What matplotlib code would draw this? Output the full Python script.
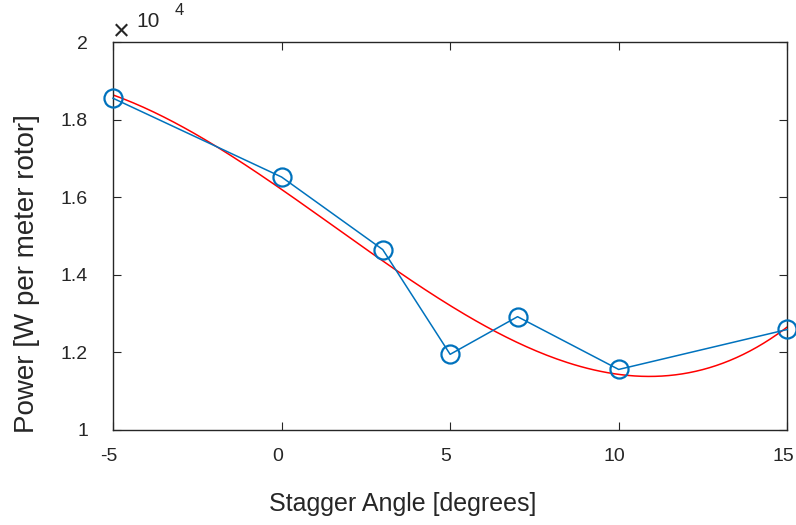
import matplotlib
matplotlib.use("Agg")
import matplotlib.pyplot as plt
import matplotlib.transforms as mtransforms
import numpy as np

# stagger angle vs power
stagger = [-5, 0, 3, 5, 7, 10, 15]
power = [18550, 16520, 14650, 11950, 12920, 11560, 12590]
xticks = [-5, 0, 5, 10, 15]
xtick_labels = ['-5', '0', '5', '10', '15']
yticks = [10000, 12000, 14000, 16000, 18000, 20000]
ytick_labels = ['1', '1.2', '1.4', '1.6', '1.8', '2']

plt.rcParams['font.family'] = ['Liberation Sans', 'DejaVu Sans']
ink = '#262626'

fig = plt.figure(figsize=(7.96, 5.25), dpi=100)
ax = fig.add_axes([0.142, 0.181, 0.847, 0.739])

# cubic fit of the measured points
coef = np.polyfit(stagger, power, 3)
xf = np.linspace(min(stagger), max(stagger), 200)
ax.plot(xf, np.polyval(coef, xf), color='#ff0000', lw=1.1, zorder=2)

ax.plot(stagger, power, color='#0072bd', lw=1.1, marker='o', ms=13,
        mfc='none', mew=1.6, zorder=3, clip_on=False)

ax.set_xlim(-5, 15)
ax.set_ylim(10000, 20000)
ax.set_xticks(xticks)
ax.set_xticklabels(xtick_labels)
ax.set_yticks(yticks)
ax.set_yticklabels(ytick_labels)
ax.tick_params(direction='in', top=True, right=True, length=6, colors=ink)
ax.tick_params(axis='x', labelsize=14, pad=13)
ax.tick_params(axis='y', labelsize=14, pad=18)
# MATLAB puts the x labels a touch to the left
shift = mtransforms.ScaledTranslation(-4 / 100, 0, fig.dpi_scale_trans)
for lbl in ax.get_xticklabels():
    lbl.set_transform(lbl.get_transform() + shift)
for s in ax.spines.values():
    s.set_color(ink)
    s.set_linewidth(1.0)

ax.set_xlabel('Stagger Angle [degrees]', fontsize=18, color=ink, va='center')
ax.xaxis.set_label_coords(0.43, -0.19)
ax.set_ylabel('Power [W per meter rotor]', fontsize=20, color=ink, va='center')
ax.yaxis.set_label_coords(-0.128, 0.402)

# exponent marker
ax.text(0.0, 1.026, '\u00d7', transform=ax.transAxes, fontsize=21,
        color=ink, ha='left', va='center')
ax.text(0.035, 1.039, '10', transform=ax.transAxes, fontsize=15,
        color=ink, ha='left', va='baseline')
ax.text(0.092, 1.07, '4', transform=ax.transAxes, fontsize=12,
        color=ink, ha='left', va='baseline')

fig.savefig('out.png', dpi=100)
